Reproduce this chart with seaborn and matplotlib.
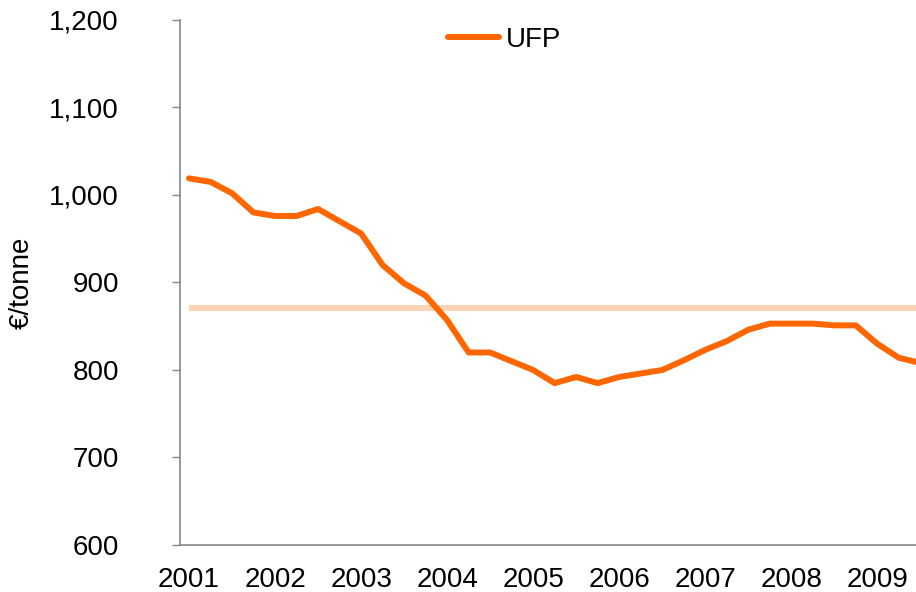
import numpy as np
import pandas as pd
import seaborn as sns
import matplotlib.pyplot as plt

# quarterly UFP price, EUR/tonne
ufp = [1019, 1015, 1002, 980, 976, 976, 984, 970, 956, 920, 899, 885,
       857, 820, 820, 810, 800, 785, 792, 785, 792, 796, 800, 811,
       823, 833, 846, 853, 853, 853, 851, 851, 830, 814, 808]
avg_level = 871
years = ["2001", "2002", "2003", "2004", "2005", "2006", "2007", "2008", "2009"]

df = pd.DataFrame({"quarter": np.arange(len(ufp)), "UFP": ufp})

sns.set_style("white")
plt.rcParams['font.family'] = ['Liberation Sans', 'DejaVu Sans']
plt.rcParams['text.color'] = 'black'
plt.rcParams['xtick.color'] = 'black'
plt.rcParams['ytick.color'] = 'black'
plt.rcParams['axes.labelcolor'] = 'black'

fig = plt.figure(figsize=(9.16, 5.92), dpi=100)
ax = fig.add_axes([180 / 916, 1 - 545 / 592, 1 - 180 / 916, (545 - 20) / 592])

# average level as a faint band behind the series
ax.hlines(avg_level, df["quarter"].iloc[0], df["quarter"].iloc[-1],
          color="#FFD3B5", linewidth=4.3, zorder=1)

sns.lineplot(data=df, x="quarter", y="UFP", ax=ax, color="#FF6600",
             linewidth=4.3, label="UFP", solid_capstyle="round", zorder=3)

ax.set_xlim(-0.42, 33.8)
ax.set_ylim(600, 1200)
ax.set_yticks(range(600, 1201, 100))
ax.set_yticklabels([f"{v:,}" for v in range(600, 1201, 100)])
ax.set_xticks(range(0, len(ufp), 4))
ax.set_xticklabels(years)

ax.tick_params(axis="y", length=6, width=1, color="#868686", pad=38,
               labelsize=20, direction="out", left=True)
ax.tick_params(axis="x", length=0, pad=16, labelsize=20)

for s in ["top", "right"]:
    ax.spines[s].set_visible(False)
for s in ["left", "bottom"]:
    ax.spines[s].set_color("#868686")
    ax.spines[s].set_linewidth(1.2)

ax.set_xlabel("")
ax.set_ylabel("€/tonne", fontsize=20)
ax.yaxis.set_label_coords(-0.198, 0.5)

ax.legend(loc="center left", bbox_to_anchor=(448 / 916, 1 - 40 / 592),
          bbox_transform=fig.transFigure, frameon=False, fontsize=20,
          borderpad=0, borderaxespad=0, handlelength=1.85, handletextpad=0.25)

plt.savefig("out.png", dpi=100)
